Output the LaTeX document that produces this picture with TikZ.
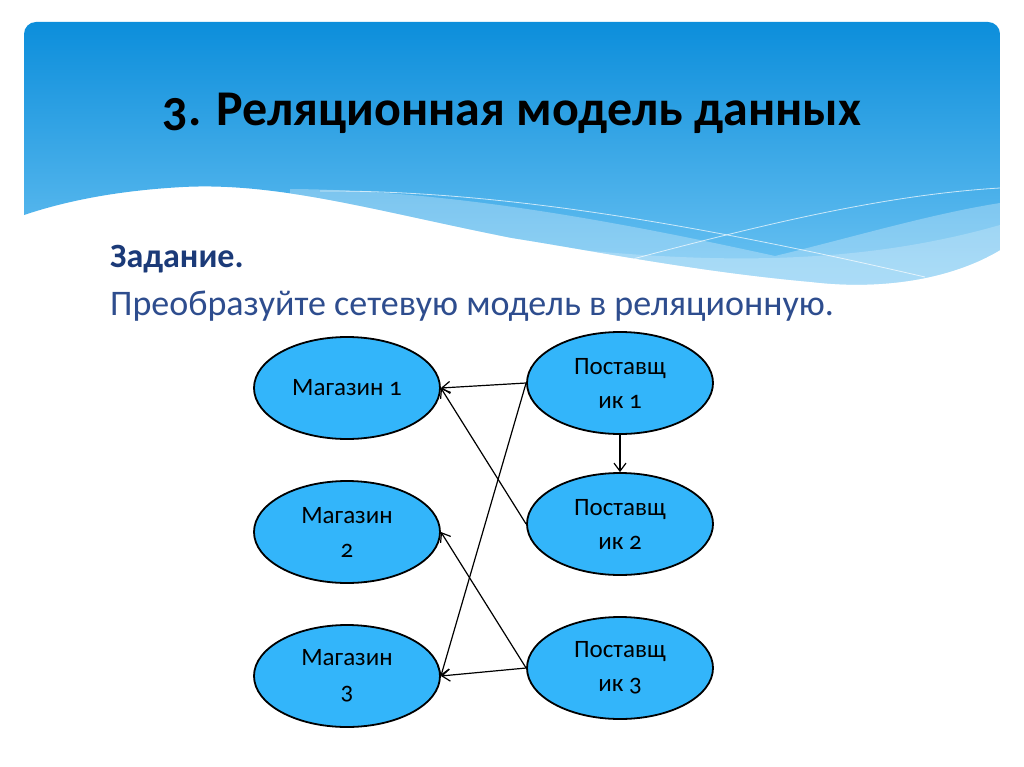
\documentclass[tikz,border=0pt]{standalone}
\usepackage{fontspec}
\setmainfont{Carlito}[Numbers=OldStyle]
\usetikzlibrary{shapes.geometric,arrows.meta}
\definecolor{hdtop}{RGB}{12,142,219}
\definecolor{hdbot}{RGB}{110,196,243}
\definecolor{ellfill}{RGB}{51,181,250}
\definecolor{navy}{RGB}{27,58,120}
\definecolor{navy2}{RGB}{46,77,142}
\tikzset{
  ell/.style={ellipse, draw=black, line width=1.8pt, fill=ellfill, minimum width=186pt, minimum height=102pt, inner sep=0pt, align=center, font=\fontsize{25}{34}\selectfont},
  link/.style={line width=1.2pt, -{Straight Barb[length=8pt,width=12pt]}},
}
\begin{document}
\begin{tikzpicture}[x=1pt,y=-1pt]
\useasboundingbox (0,0) rectangle (1024,767);
\fill[white] (0,0) rectangle (1024,767);
% header
\begin{scope}
\clip (24,34) arc[start angle=180,end angle=270,radius=12] -- (988,22) arc[start angle=270,end angle=360,radius=12] -- (1000,250)
  .. controls (950,280) and (880,290) .. (812,282)
  .. controls (700,272) and (600,252) .. (512,238)
  .. controls (380,212) and (280,182) .. (183,187)
  .. controls (110,191) and (60,203) .. (24,215) -- cycle;
\shade[top color=hdtop, bottom color=hdbot] (24,22) rectangle (1000,290);
\fill[white,opacity=0.28] (290,189) .. controls (450,190) and (620,222) .. (775,256)
   .. controls (850,238) and (930,214) .. (1000,203) -- (1000,300) -- (290,300) -- cycle;
\fill[white,opacity=0.22] (560,248) .. controls (700,262) and (850,268) .. (1000,225) -- (1000,300) -- (560,300) -- cycle;
\draw[white,opacity=0.7,line width=0.8pt] (320,191) .. controls (500,190) and (700,225) .. (925,277);
\draw[white,opacity=0.7,line width=0.8pt] (629,260) .. controls (750,228) and (880,195) .. (1000,188);
\end{scope}
\node[anchor=base, font=\bfseries\fontsize{50}{56}\selectfont] (title) at (512,126) {3. Реляционная модель данных};
\node[anchor=base west, inner sep=0pt, text=navy, font=\bfseries\fontsize{34}{40}\selectfont] (task) at (110,267) {Задание.};
\node[anchor=base west, inner sep=0pt, text=navy2, font=\fontsize{36}{40}\selectfont] (txt) at (110,315) {Преобразуйте сетевую модель в реляционную.};
% diagram
\node[ell] (m1) at (347,388) {Магазин 1};
\node[ell] (m2) at (347,532) {Магазин\\2};
\node[ell] (m3) at (347,676) {Магазин\\3};
\node[ell] (p1) at (620,383) {Поставщ\\ик 1};
\node[ell] (p2) at (620,524) {Поставщ\\ик 2};
\node[ell] (p3) at (620,668) {Поставщ\\ик 3};
\draw[link] (p1.west) -- (m1.east);
\draw[link] (p1.west) -- (m3.east);
\draw[link] (p2.west) -- (m1.east);
\draw[link] (p3.west) -- (m2.east);
\draw[link] (p3.west) -- (m3.east);
\draw[link] (p1.south) -- (p2.north);
\end{tikzpicture}
\end{document}
